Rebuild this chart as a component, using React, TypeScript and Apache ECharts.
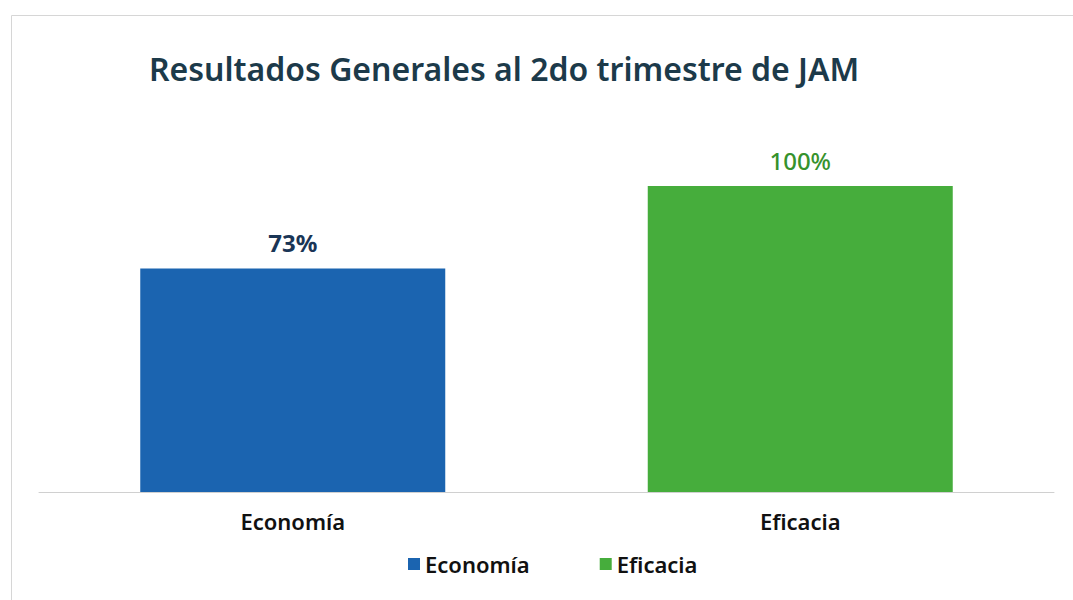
import React, { useEffect, useRef } from "react";
import * as echarts from "echarts";

const title = "Resultados Generales al 2do trimestre de JAM";
const categories = ["Economía", "Eficacia"];
const seriesNames = ["Economía", "Eficacia"];
const economiaValues: (number | string)[] = [73, "-"];
const eficaciaValues: (number | string)[] = ["-", 100];
const barColors = ["#1b64b0", "#46ad3c"];
const labelColors = ["#1a3556", "#36922c"];

export default function App() {
  const ref = useRef<HTMLDivElement>(null);
  useEffect(() => {
    if (!ref.current) return;
    const chart = echarts.init(ref.current, null, { renderer: "svg" });
    const font = "'Noto Sans', 'DejaVu Sans', sans-serif";
    chart.setOption({
      animation: false,
      backgroundColor: "#ffffff",
      textStyle: { fontFamily: font },
      graphic: [
        {
          type: "rect",
          left: 9,
          top: 13,
          shape: { width: 1100, height: 620 },
          style: { fill: "none", stroke: "#d6d6d6", lineWidth: 1 },
          silent: true,
        },
      ],
      title: {
        text: title,
        left: 144,
        top: 47,
        textStyle: { fontSize: 32, fontWeight: 600, color: "#1c3a4a", fontFamily: font },
      },
      legend: {
        bottom: 20,
        left: 403,
        itemWidth: 12,
        itemHeight: 12,
        itemGap: 70,
        icon: "rect",
        textStyle: { fontSize: 22, fontWeight: 600, color: "#111", fontFamily: font },
        data: seriesNames,
      },
      grid: { left: 39, right: 19, top: 186, bottom: 108 },
      xAxis: {
        type: "category",
        data: categories,
        axisTick: { show: false },
        axisLine: { lineStyle: { color: "#d0d0d0", width: 1 } },
        axisLabel: { fontSize: 22, fontWeight: 600, color: "#111", margin: 18, fontFamily: font },
      },
      yAxis: { type: "value", min: 0, max: 100, show: false, splitLine: { show: false } },
      series: [
        {
          name: seriesNames[0],
          type: "bar",
          stack: "s",
          data: economiaValues,
          barWidth: 305,
          itemStyle: { color: barColors[0] },
          label: {
            show: true,
            position: "top",
            distance: 14,
            formatter: "{c}%",
            fontSize: 24,
            fontWeight: "bold",
            color: labelColors[0],
            fontFamily: font,
          },
        },
        {
          name: seriesNames[1],
          type: "bar",
          stack: "s",
          data: eficaciaValues,
          barWidth: 305,
          itemStyle: { color: barColors[1] },
          label: {
            show: true,
            position: "top",
            distance: 14,
            formatter: "{c}%",
            fontSize: 24,
            fontWeight: 500,
            color: labelColors[1],
            fontFamily: font,
          },
        },
      ],
    });
    return () => chart.dispose();
  }, []);
  return <div ref={ref} style={{ width: 1073, height: 600, position: "absolute", left: 0, top: 0 }} />;
}
